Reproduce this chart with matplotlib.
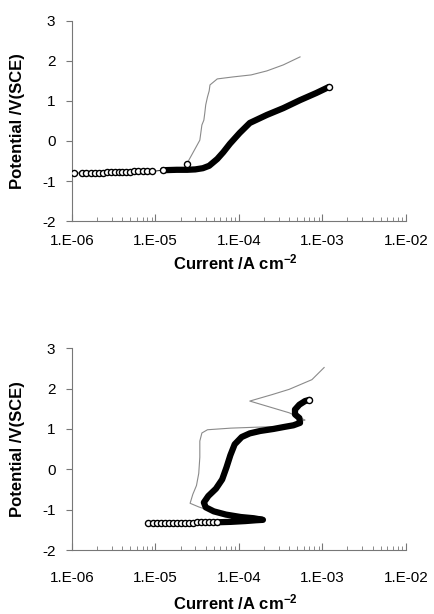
import matplotlib as mpl
import matplotlib.pyplot as plt
from matplotlib.ticker import FixedLocator, LogLocator, NullFormatter

mpl.rcParams.update(
    {
        "font.family": "sans-serif",
        "font.sans-serif": ["Liberation Sans", "DejaVu Sans"],
        "mathtext.fontset": "custom",
        "mathtext.rm": "Liberation Sans",
        "mathtext.bf": "Liberation Sans:bold",
        "font.size": 11,
        "axes.linewidth": 0.8,
    }
)

# ---- panel 1 (top) ----
top_sparse_i = [1.06e-6, 1.31e-6, 1.47e-6, 1.68e-6, 1.88e-6, 2.12e-6, 2.37e-6, 2.65e-6,
                2.96e-6, 3.27e-6, 3.62e-6, 4.01e-6, 4.43e-6, 4.96e-6, 5.53e-6, 6.23e-6,
                7.02e-6, 7.98e-6, 9.08e-6, 1.24e-5]
top_sparse_e = [-0.80, -0.80, -0.80, -0.79, -0.79, -0.79, -0.79, -0.78,
                -0.78, -0.78, -0.78, -0.77, -0.77, -0.77, -0.76, -0.76,
                -0.76, -0.76, -0.76, -0.73]
top_dense_i = [1.24e-5, 1.8e-5, 2.4e-5, 3.0e-5, 3.7e-5, 4.4e-5, 5.5e-5, 6.5e-5, 7.8e-5,
               1.02e-4, 1.35e-4, 2.16e-4, 3.4e-4, 5.4e-4, 8.5e-4, 1.2e-3]
top_dense_e = [-0.73, -0.72, -0.72, -0.71, -0.68, -0.62, -0.45, -0.28, -0.07,
               0.20, 0.45, 0.65, 0.82, 1.02, 1.20, 1.35]
top_thin_i = [2.36e-5, 2.8e-5, 3.4e-5, 3.6e-5, 3.8e-5, 3.9e-5, 4.0e-5, 4.2e-5, 4.4e-5,
              4.5e-5, 5.5e-5, 8.5e-5, 1.4e-4, 2.16e-4, 3.4e-4, 5.4e-4]
top_thin_e = [-0.58, -0.30, 0.02, 0.40, 0.52, 0.70, 0.90, 1.10, 1.25,
              1.40, 1.55, 1.60, 1.65, 1.75, 1.90, 2.10]

# ---- panel 2 (bottom) ----
bot_sparse_i = [8.17e-6, 9.38e-6, 1.05e-5, 1.17e-5, 1.31e-5, 1.46e-5, 1.63e-5, 1.82e-5,
                2.03e-5, 2.27e-5, 2.53e-5, 2.82e-5, 3.15e-5, 3.52e-5, 3.93e-5, 4.38e-5,
                4.89e-5, 5.46e-5]
bot_sparse_e = [-1.34, -1.33, -1.33, -1.33, -1.33, -1.32, -1.32, -1.32,
                -1.32, -1.32, -1.32, -1.32, -1.31, -1.31, -1.31, -1.31,
                -1.31, -1.31]
bot_dense_i = [5.46e-5, 8.0e-5, 1.2e-4, 1.6e-4, 1.94e-4, 1.5e-4, 1.05e-4, 7.0e-5,
               5.0e-5, 4.0e-5, 3.8e-5, 4.3e-5, 5.3e-5, 6.3e-5, 7.1e-5, 7.9e-5,
               8.9e-5, 1.08e-4, 1.35e-4, 1.8e-4, 2.6e-4, 3.5e-4, 4.5e-4, 5.4e-4,
               5.3e-4, 4.7e-4, 4.7e-4, 5.3e-4, 6.2e-4, 7.0e-4]
bot_dense_e = [-1.31, -1.30, -1.28, -1.26, -1.25, -1.21, -1.18, -1.12,
               -1.04, -0.94, -0.82, -0.66, -0.48, -0.25, 0.05, 0.35,
               0.62, 0.80, 0.89, 0.95, 1.00, 1.05, 1.09, 1.15,
               1.27, 1.36, 1.48, 1.60, 1.69, 1.72]
bot_thin_i = [4.3e-5, 3.3e-5, 2.6e-5, 2.8e-5, 3.1e-5, 3.3e-5, 3.4e-5, 3.4e-5, 3.6e-5,
              4.2e-5, 8.0e-5, 2.0e-4, 4.0e-4, 6.2e-4, 4.0e-4, 1.35e-4, 2.5e-4,
              4.0e-4, 7.5e-4, 1.05e-3]
bot_thin_e = [-1.01, -0.93, -0.84, -0.62, -0.40, -0.10, 0.30, 0.70, 0.90,
              0.98, 1.02, 1.05, 1.07, 1.22, 1.40, 1.69, 1.85,
              1.98, 2.22, 2.52]

x_ticks = [1e-6, 1e-5, 1e-4, 1e-3, 1e-2]
x_ticklabels = ["1.E-06", "1.E-05", "1.E-04", "1.E-03", "1.E-02"]
y_ticks = [-2, -1, 0, 1, 2, 3]

AXIS_C = "#777777"


def style_axes(ax, tick_pad, xlabel_y):
    ax.set_xscale("log")
    ax.set_xlim(1e-6, 1e-2)
    ax.set_ylim(-2, 3)
    ax.xaxis.set_major_locator(FixedLocator(x_ticks))
    ax.set_xticklabels(x_ticklabels)
    ax.xaxis.set_minor_locator(LogLocator(base=10, subs=range(2, 10)))
    ax.xaxis.set_minor_formatter(NullFormatter())
    ax.set_yticks(y_ticks)
    ax.set_yticklabels([str(v) for v in y_ticks])
    for side in ("top", "right"):
        ax.spines[side].set_visible(False)
    for side in ("left", "bottom"):
        ax.spines[side].set_color(AXIS_C)
    ax.tick_params(axis="x", which="major", direction="in", length=5, width=0.8,
                   color=AXIS_C, pad=tick_pad, labelsize=11)
    ax.tick_params(axis="x", which="minor", direction="in", length=3, width=0.6,
                   color=AXIS_C)
    ax.tick_params(axis="y", which="major", direction="out", length=4, width=0.8,
                   color=AXIS_C, pad=8, labelsize=11)
    ax.set_ylabel("Potential /V(SCE)", fontsize=12, fontweight="bold")
    ax.yaxis.set_label_coords(-0.14, 0.5)
    ax.set_xlabel(r"Current /A cm$^{\mathbf{-2}}$", fontsize=12, fontweight="bold")
    ax.xaxis.set_label_coords(0.49, xlabel_y)


def draw(ax, sp_i, sp_e, dn_i, dn_e, th_i, th_e, thin_marker):
    ax.plot(th_i, th_e, color="#8a8a8a", lw=0.8, zorder=2)
    ax.plot(dn_i, dn_e, color="black", lw=4.5, solid_capstyle="round",
            solid_joinstyle="round", zorder=3)
    ax.plot(sp_i, sp_e, color="black", lw=0.6, marker="o", ms=4.4,
            mfc="white", mec="black", mew=1.0, zorder=4)
    ax.plot(dn_i[-1:], dn_e[-1:], ls="none", marker="o", ms=4.4,
            mfc="white", mec="black", mew=1.0, zorder=5)
    if thin_marker:
        ax.plot(th_i[:1], th_e[:1], ls="none", marker="o", ms=4.4,
                mfc="white", mec="black", mew=1.0, zorder=5)


fig = plt.figure(figsize=(4.34, 6.14), dpi=100)
ax1 = fig.add_axes([0.166, 0.640, 0.769, 0.326])
ax2 = fig.add_axes([0.166, 0.104, 0.769, 0.329])

draw(ax1, top_sparse_i, top_sparse_e, top_dense_i, top_dense_e, top_thin_i, top_thin_e, True)
draw(ax2, bot_sparse_i, bot_sparse_e, bot_dense_i, bot_dense_e, bot_thin_i, bot_thin_e, False)

style_axes(ax1, tick_pad=9, xlabel_y=-0.155)
style_axes(ax2, tick_pad=15, xlabel_y=-0.21)

fig.savefig("out.png", dpi=100)
